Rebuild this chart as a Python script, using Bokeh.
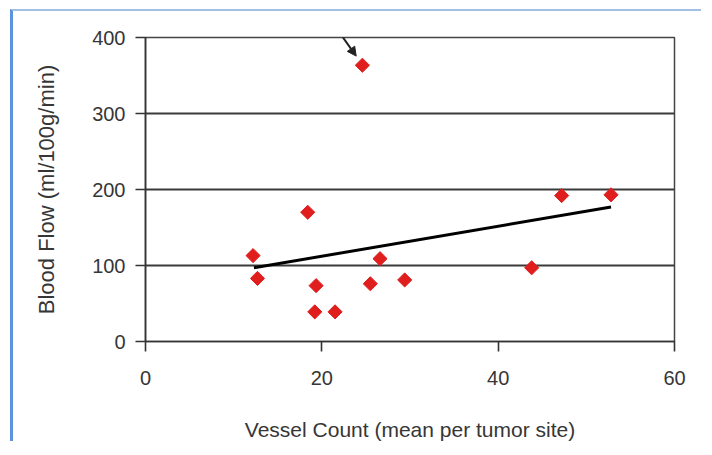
import math
from bokeh.plotting import figure
from bokeh.models import Arrow, NormalHead, FixedTicker, Range1d, ColumnDataSource
from bokeh.embed import file_html
from bokeh.resources import INLINE

# Data
vessel_count = [12.2, 12.7, 18.4, 19.35, 19.2, 21.5, 24.6, 25.5, 26.6, 29.4, 43.8, 47.2, 52.8]
blood_flow = [113, 83, 170, 73.5, 39, 39, 363.5, 76, 109, 81, 97, 192, 193]
trend_x = [12.3, 52.8]
trend_y = [97, 177]
x_ticks = [0, 20, 40, 60]
y_ticks = [0, 100, 200, 300, 400]

FONT = "Liberation Sans"
TXT = "#363636"

p = figure(width=691, height=432, output_backend="svg", toolbar_location=None,
           x_range=Range1d(0, 60), y_range=Range1d(0, 400),
           min_border_left=132, min_border_right=30, min_border_top=26, min_border_bottom=101,
           background_fill_color="white", border_fill_color="white")
p.styles = {"margin-left": "10px", "margin-top": "9px",
            "border-left": "3px solid #5b93dc", "border-top": "2px solid #a3c0e4"}

p.outline_line_color = "#454545"
p.outline_line_width = 1.5

p.xgrid.visible = False
p.ygrid.ticker = FixedTicker(ticks=y_ticks)
p.ygrid.grid_line_color = "#3a3a3a"
p.ygrid.grid_line_width = 2.2

for ax in (p.xaxis[0], p.yaxis[0]):
    ax.axis_line_color = "#333333"
    ax.axis_line_width = 1.6
    ax.major_tick_line_color = "#333333"
    ax.major_tick_line_width = 1.6
    ax.major_tick_out = 10
    ax.major_tick_in = 0
    ax.minor_tick_line_color = None
    ax.major_label_text_font = FONT
    ax.major_label_text_font_size = "20px"
    ax.major_label_text_color = TXT
    ax.axis_label_text_font = FONT
    ax.axis_label_text_font_style = "normal"
    ax.axis_label_text_color = TXT

p.xaxis.axis_label_text_font_size = "21px"
p.yaxis.axis_label_text_font_size = "22px"
p.xaxis.ticker = FixedTicker(ticks=x_ticks)
p.yaxis.ticker = FixedTicker(ticks=y_ticks)
p.xaxis.axis_label = "Vessel Count (mean per tumor site)"
p.yaxis.axis_label = "Blood Flow (ml/100g/min)"
p.xaxis.major_label_standoff = 19
p.yaxis.major_label_standoff = 10
p.xaxis.axis_label_standoff = 30
p.yaxis.axis_label_standoff = 30

src = ColumnDataSource(dict(x=vessel_count, y=blood_flow))
p.line(trend_x, trend_y, line_color="black", line_width=3)
p.scatter("x", "y", source=src, marker="square", angle=math.pi / 4, size=10,
          fill_color="#e01e1e", line_color="#e01e1e")

# arrow pointing to the outlier (highest blood flow)
i = blood_flow.index(max(blood_flow))
ox, oy = vessel_count[i], blood_flow[i]
p.add_layout(Arrow(end=NormalHead(size=9, fill_color="#222222", line_color="#222222"),
                   x_start=ox - 2.6, y_start=oy + 43, x_end=ox - 0.7, y_end=oy + 12,
                   line_color="#222222", line_width=2))

open("out.html", "w").write(file_html(p, INLINE))
